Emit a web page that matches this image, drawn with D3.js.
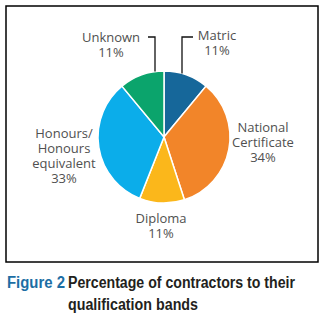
<!DOCTYPE html>
<html><head><meta charset="utf-8">
<script src="https://cdn.jsdelivr.net/npm/d3@7"></script>
<style>body{margin:0;background:#fff}svg{display:block}</style>
</head><body>
<script>
const categories = ["Matric","National Certificate","Diploma","Honours/Honours equivalent","Unknown"];
const values = [11,34,11,33,11];
const colors = ["#16679a","#f28529","#fbb71b","#0badea","#0ba46c"];
const labelLines = [["Matric","11%"],["National","Certificate","34%"],["Diploma","11%"],["Honours/","Honours","equivalent","33%"],["Unknown","11%"]];
const captionLabel = "Figure 2";
const captionLines = ["Percentage of contractors to their","qualification bands"];

const W=323,H=320, cx=164, cy=137, r=66;
const svg=d3.select("body").append("svg").attr("width",W).attr("height",H);
svg.append("rect").attr("x",6).attr("y",6).attr("width",312).attr("height",256)
  .attr("fill","none").attr("stroke","#000").attr("stroke-width",1.5);

const data = categories.map((c,i)=>({c,v:values[i],col:colors[i],lines:labelLines[i]}));
const pie=d3.pie().value(d=>d.v).sort(null);
const arc=d3.arc().innerRadius(0).outerRadius(r);
const g=svg.append("g").attr("transform",`translate(${cx},${cy})`);
const arcs=pie(data);
g.selectAll("path").data(arcs).join("path").attr("d",arc)
  .attr("fill",d=>d.data.col).attr("stroke","#fff").attr("stroke-width",1.5);

const labelPos=[{x:53,y:-97},{x:99,y:-5},{x:-3,y:86},{x:-100,y:1},{x:-53,y:-95}];
const lh=15;
const font="'Open Sans', 'Noto Sans', sans-serif";
arcs.forEach((a,i)=>{
  const p=labelPos[i];
  const t=g.append("text").attr("text-anchor","middle").attr("font-family",font)
    .attr("font-size",13).attr("fill","#505050");
  a.data.lines.forEach((ln,j)=>{
    t.append("tspan").attr("x",p.x).attr("y",p.y+j*lh).text(ln);
  });
});
const lineG=g.append("g").attr("stroke","#111").attr("stroke-width",1.3).attr("fill","none");
const mA=Math.asin(18/r), uA=-Math.asin(9/r);
lineG.append("path").attr("d",`M${r*Math.sin(mA)},${-r*Math.cos(mA)}V-100H29`);
lineG.append("path").attr("d",`M${r*Math.sin(uA)},${-r*Math.cos(uA)}V-100H-16`);

const cfont="'Liberation Sans','DejaVu Sans',sans-serif";
svg.append("text").attr("x",7).attr("y",288).attr("font-family",cfont).attr("font-size",16)
  .attr("font-weight","bold").attr("fill","#1c6ea4")
  .attr("textLength",58).attr("lengthAdjust","spacingAndGlyphs").text(captionLabel);
svg.append("text").attr("x",68).attr("y",288).attr("font-family",cfont).attr("font-size",16)
  .attr("font-weight","bold").attr("fill","#231f20")
  .attr("textLength",227).attr("lengthAdjust","spacingAndGlyphs").text(captionLines[0]);
svg.append("text").attr("x",68).attr("y",310).attr("font-family",cfont).attr("font-size",16)
  .attr("font-weight","bold").attr("fill","#231f20")
  .attr("textLength",130).attr("lengthAdjust","spacingAndGlyphs").text(captionLines[1]);
</script>
</body></html>
